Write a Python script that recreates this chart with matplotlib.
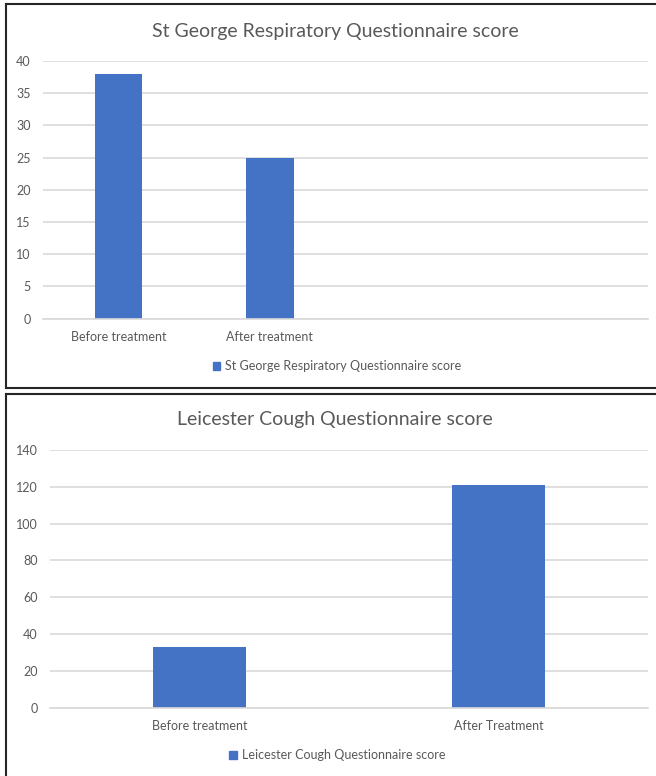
import matplotlib.pyplot as plt
from matplotlib.lines import Line2D
from matplotlib.patches import Patch

plt.rcParams['font.family'] = ['Lato', 'DejaVu Sans']

# data
sgrq_categories = ['Before treatment', 'After treatment', '', '']
sgrq_values = [38, 25, 0, 0]
sgrq_title = 'St George Respiratory Questionnaire score'

lcq_categories = ['Before treatment', 'After Treatment']
lcq_values = [33, 121]
lcq_title = 'Leicester Cough Questionnaire score'

bar_color = '#4472C4'
grid_color = '#D9D9D9'
text_color = '#595959'

W, H = 656, 776
fig = plt.figure(figsize=(W / 100, H / 100), dpi=100)


def fx(px):
    return px / W


def fy(py):
    return 1 - py / H


def style_axis(ax, ymax, step):
    ax.set_ylim(0, ymax)
    ax.set_yticks(range(0, ymax + 1, step))
    ax.yaxis.grid(True, color=grid_color, lw=1.2)
    ax.set_axisbelow(True)
    for s in ['top', 'right', 'left']:
        ax.spines[s].set_visible(False)
    ax.spines['bottom'].set_color(grid_color)
    ax.spines['bottom'].set_linewidth(1.2)
    ax.tick_params(axis='both', length=0, labelsize=9, labelcolor=text_color)
    ax.tick_params(axis='y', pad=9)
    ax.tick_params(axis='x', pad=9)


# top chart
ax1 = fig.add_axes([fx(43), fy(318.5), fx(648 - 43), (318.5 - 61) / H])
x1 = range(len(sgrq_categories))
ax1.bar(x1, sgrq_values, width=0.314, color=bar_color)
ax1.set_xlim(-0.5, len(sgrq_categories) - 0.5)
ax1.set_xticks(list(x1))
ax1.set_xticklabels(sgrq_categories)
style_axis(ax1, 40, 5)
fig.text(fx(335), fy(31), sgrq_title, ha='center', va='center',
         fontsize=14, color=text_color)
fig.legend(handles=[Patch(color=bar_color, label=sgrq_title)],
           loc='center', bbox_to_anchor=(fx(337), fy(366)), frameon=False,
           fontsize=9, labelcolor=text_color, handlelength=0.6,
           handleheight=0.6, handletextpad=0.4)

# bottom chart
ax2 = fig.add_axes([fx(50), fy(707.7), fx(648 - 50), (707.7 - 450) / H])
x2 = range(len(lcq_categories))
ax2.bar(x2, lcq_values, width=0.31, color=bar_color)
ax2.set_xlim(-0.5, len(lcq_categories) - 0.5)
ax2.set_xticks(list(x2))
ax2.set_xticklabels(lcq_categories)
style_axis(ax2, 140, 20)
fig.text(fx(335), fy(420), lcq_title, ha='center', va='center',
         fontsize=14, color=text_color)
fig.legend(handles=[Patch(color=bar_color, label=lcq_title)],
           loc='center', bbox_to_anchor=(fx(337), fy(755)), frameon=False,
           fontsize=9, labelcolor=text_color, handlelength=0.6,
           handleheight=0.6, handletextpad=0.4)

# chart frames
border = dict(color='#262626', lw=1.5, transform=fig.transFigure)
fig.add_artist(Line2D([fx(6), 1], [fy(4), fy(4)], **border))
fig.add_artist(Line2D([fx(6), fx(6)], [fy(4), fy(388)], **border))
fig.add_artist(Line2D([fx(6), 1], [fy(388), fy(388)], **border))
fig.add_artist(Line2D([fx(6), 1], [fy(393.5), fy(393.5)], **border))
fig.add_artist(Line2D([fx(6), fx(6)], [fy(393.5), 0], **border))

fig.savefig('out.png', dpi=100)
